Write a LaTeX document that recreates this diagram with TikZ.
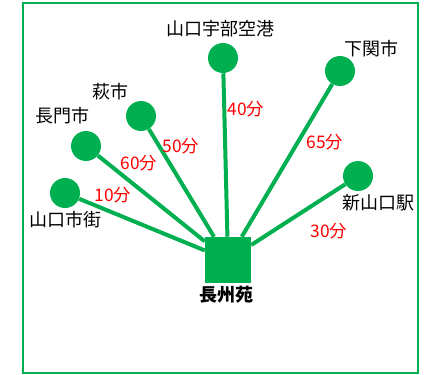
\documentclass[tikz,border=0pt]{standalone}
\usepackage{fontspec}
\setmainfont{Noto Sans CJK JP}
\usepackage{xcolor}
\usepackage{tikz}
\usetikzlibrary{positioning}
\definecolor{grn}{RGB}{0,176,80}
\tikzstyle{spot} = [circle, fill=grn, inner sep=0pt, minimum size=22.5pt]
\tikzstyle{hub} = [rectangle, fill=grn, inner sep=0pt, minimum size=34.5pt]
\tikzstyle{road} = [grn, line width=3pt]
\tikzstyle{town} = [inner sep=0pt, font=\fontsize{13.5}{16}\selectfont]
\tikzstyle{mins} = [inner sep=0pt, text=red, font=\fontsize{13}{15}\selectfont]

\begin{document}
\begin{tikzpicture}[x=0.75pt, y=-0.75pt]
      \useasboundingbox (0,0) rectangle (425,375);
      \draw[grn, line width=1.5pt] (23.3,3.3) rectangle (417.7,373.3);
      %%%%%%%%%%%%%%%%%%%%%%%%%%%%%%%%%%%%%%%
      \node (v0) at (228,260) [hub] {};
      \node (v1) at (65,193) [spot] {};
      \node (v2) at (86,146) [spot] {};
      \node (v3) at (141,116) [spot] {};
      \node (v4) at (223,58) [spot] {};
      \node (v5) at (340,71) [spot] {};
      \node (v6) at (358,176) [spot] {};
      \draw[road] (v1)--(v0);
      \draw[road] (v2)--(v0);
      \draw[road] (v3)--(v0);
      \draw[road] (v4)--(v0);
      \draw[road] (v5)--(v0);
      \draw[road] (v6)--(v0);
      %%%%%%%%%%%%%%%%%%%%%%%%%%%%%%%%%%%%%%%
      \node (t0) at (226,295) [town] {\bfseries 長州苑};
      \node (t1) at (65,220) [town] {山口市街};
      \node (t2) at (63,116) [town] {長門市};
      \node (t3) at (110,92) [town] {萩市};
      \node (t4) at (220,29) [town] {山口宇部空港};
      \node (t5) at (371,49) [town] {下関市};
      \node (t6) at (378,203) [town] {新山口駅};
      \node (m1) at (113,195) [mins] {10分};
      \node (m2) at (139,163) [mins] {60分};
      \node (m3) at (181,146) [mins] {50分};
      \node (m4) at (246,109) [mins] {40分};
      \node (m5) at (325,142) [mins] {65分};
      \node (m6) at (329,231) [mins] {30分};
\end{tikzpicture}
\end{document}
